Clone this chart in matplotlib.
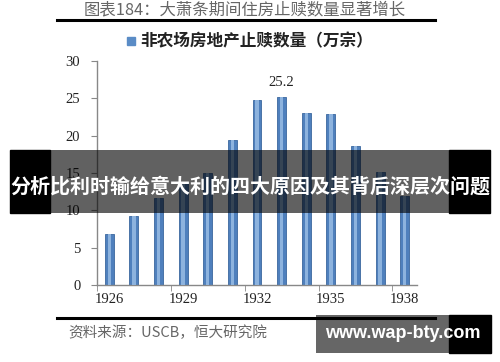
import matplotlib
matplotlib.use("Agg")
import matplotlib.pyplot as plt
from matplotlib.patches import Rectangle
from matplotlib.lines import Line2D

years = [1926, 1927, 1928, 1929, 1930, 1931, 1932, 1933, 1934, 1935, 1936, 1937, 1938]
values = [6.8, 9.2, 11.6, 13.7, 15.0, 19.4, 24.8, 25.2, 23.1, 22.9, 18.6, 15.1, 11.9]
tick_years = [1926, 1929, 1932, 1935, 1938]
yticks = [0, 5, 10, 15, 20, 25, 30]
title = "图表184：大萧条期间住房止赎数量显著增长"
legend_label = "非农场房地产止赎数量（万宗）"
source = "资料来源：USCB，恒大研究院"
banner = "分析比利时输给意大利的四大原因及其背后深层次问题"
watermark = "www.wap-bty.com"
peak_label = "25.2"

W, H = 500, 362
fig = plt.figure(figsize=(W / 100, H / 100), dpi=100)
fig.patch.set_facecolor("white")

def fx(x):
    return x / W

def fy(y):
    return 1 - y / H

cjk = ["Noto Sans CJK SC", "DejaVu Sans"]
serif = ["Liberation Serif", "DejaVu Serif"]

ax = fig.add_axes([fx(97), fy(285), fx(417) - fx(97), fy(61) - fy(285)])
ax.bar(years, values, width=0.36, color="#4f80bd", edgecolor="#3b679e", linewidth=0.6, zorder=2)
ax.bar(years, values, width=0.14, color="#8db3de", linewidth=0, zorder=3)
ax.set_xlim(1925.5, 1938.5)
ax.set_ylim(0, 30)
ax.set_yticks(yticks)
ax.set_xticks(tick_years)
ax.set_xticks([1925.5, 1928.5, 1931.5, 1934.5, 1937.5], minor=True)
ax.tick_params(axis="x", which="major", length=0, pad=6, labelsize=10.5, labelcolor="#222222")
ax.tick_params(axis="x", which="minor", length=4, color="#888888", direction="out")
ax.tick_params(axis="y", length=4, color="#888888", direction="out", pad=8, labelsize=10.5, labelcolor="#222222")
for lab in ax.get_xticklabels() + ax.get_yticklabels():
    lab.set_family(serif)
for s in ["top", "right"]:
    ax.spines[s].set_visible(False)
for s in ["left", "bottom"]:
    ax.spines[s].set_color("#888888")
    ax.spines[s].set_linewidth(1.0)
ax.annotate(peak_label, (1933, 25.2), xytext=(0, 6), textcoords="offset points",
            ha="center", va="bottom", fontsize=10.5, family=serif, color="#222222")

# title and rules
fig.text(fx(245), fy(10), title, ha="center", va="center", fontsize=11.8, family=cjk, color="#666666")
fig.add_artist(Line2D([fx(57), fx(435)], [fy(20), fy(20)], color="black", lw=2.2))
fig.add_artist(Line2D([fx(57), fx(435)], [fy(318), fy(318)], color="black", lw=2.2))

# legend
fig.add_artist(Rectangle((fx(127), fy(45)), fx(8), 8 / H, color="#5a8cc6"))
fig.text(fx(140), fy(41), legend_label, ha="left", va="center", fontsize=12, family=cjk,
         weight="bold", color="#222222")

# source
fig.text(fx(68), fy(333), source, ha="left", va="center", fontsize=10.5, family=cjk,
         color="#666666", style="italic")

# banner overlay
fig.add_artist(Rectangle((fx(10), fy(213)), fx(40), (213 - 150) / H, color="black", zorder=10))
fig.add_artist(Rectangle((fx(50), fy(213)), fx(399), (213 - 150) / H, color="black", alpha=0.62, lw=0, zorder=10))
fig.add_artist(Rectangle((fx(449), fy(213)), fx(41), (213 - 150) / H, color="black", zorder=10))
fig.text(fx(250), fy(186), banner, ha="center", va="center", fontsize=14.4, family=cjk,
         weight="bold", color="white", zorder=11)

# watermark
fig.add_artist(Rectangle((fx(316), fy(353)), fx(133), (353 - 315) / H, color="black", alpha=0.6, lw=0, zorder=10))
fig.add_artist(Rectangle((fx(449), fy(353)), fx(42), (353 - 315) / H, color="black", zorder=10))
fig.text(fx(403), fy(333), watermark, ha="center", va="center", fontsize=13, family=["Liberation Sans", "DejaVu Sans"],
         weight="bold", color="white", zorder=11)

fig.savefig("out.png", dpi=100, facecolor="white")
